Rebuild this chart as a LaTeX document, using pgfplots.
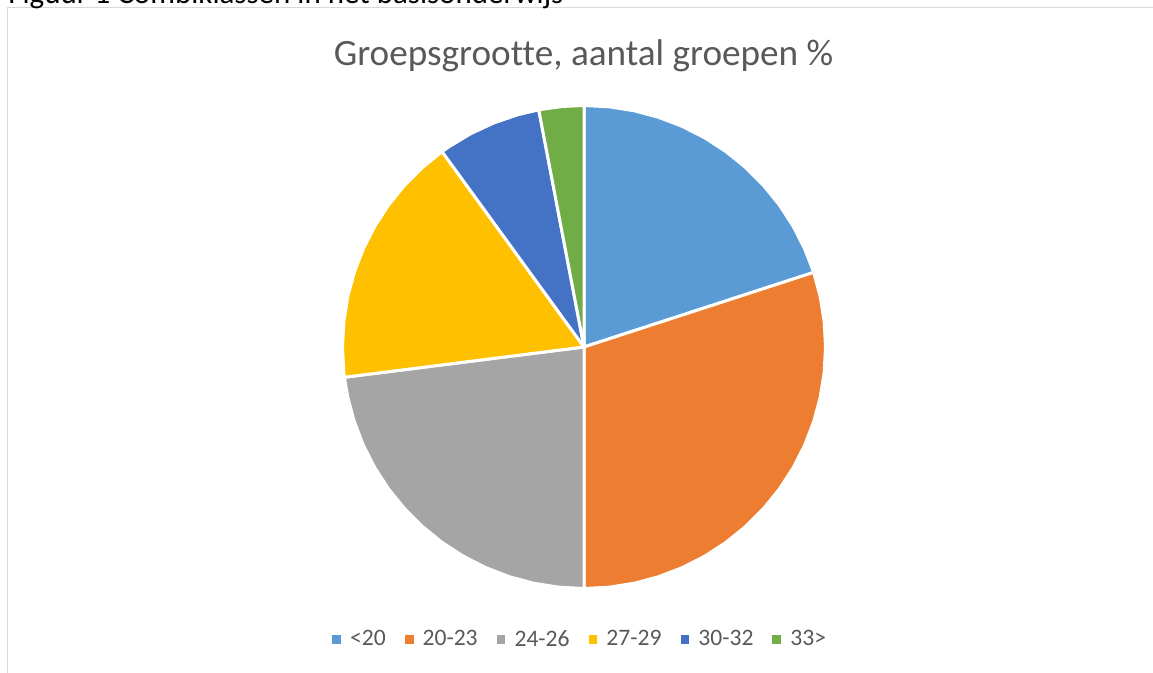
\documentclass[border=0pt]{standalone}
\usepackage{fontspec}
\setmainfont[Ligatures={NoCommon}]{Carlito}
\usepackage{pgfplots}
\pgfplotsset{compat=1.18}
\usepgfplotslibrary{polar}
\definecolor{c1}{HTML}{5B9BD5}
\definecolor{c2}{HTML}{ED7D31}
\definecolor{c3}{HTML}{A5A5A5}
\definecolor{c4}{HTML}{FFC000}
\definecolor{c5}{HTML}{4472C4}
\definecolor{c6}{HTML}{70AD47}
\definecolor{txt}{HTML}{595959}
\definecolor{framec}{HTML}{D9D9D9}
\begin{document}
\begin{tikzpicture}
\useasboundingbox (0,0) rectangle (576.5bp,336.5bp);
\draw[framec, line width=0.75bp] (3.75bp,-20bp) -- (3.75bp,332.75bp) -- (600bp,332.75bp);
\node[anchor=base west, font=\fontsize{15.5bp}{18bp}\selectfont, inner sep=0pt] at (4bp,334.5bp) {Figuur 1 Combiklassen in het basisonderwijs};
\node[anchor=base, font=\fontsize{18.6bp}{22bp}\selectfont, text=txt, inner sep=0pt] at (291.75bp,303.5bp) {Groepsgrootte, aantal groepen \%};
\begin{polaraxis}[
  at={(292bp,163bp)}, anchor=center,
  scale only axis, width=241.5bp, height=241.5bp,
  hide axis, ymin=0, ymax=1, xmin=0, xmax=360, clip=false,
  legend columns=-1,
  legend cell align=left,
  legend style={at={(0.494,-0.106)}, anchor=center, draw=none, fill=none,
    font=\fontsize{11.8bp}{13bp}\selectfont, text=txt,
    /tikz/every even column/.append style={column sep=7.5bp}},
  legend image code/.code={\fill[#1,draw=none] (0bp,-2.0bp) rectangle (4.4bp,2.4bp);\path (6.2bp,0bp);},
  every axis plot/.append style={draw=white, line width=1.5bp, line join=round},
]
% <20 : 20 %
\addplot[fill=c1] coordinates {(0,0) (18,1) (24,1) (30,1) (36,1) (42,1) (48,1) (54,1) (60,1) (66,1) (72,1) (78,1) (84,1) (90,1) (0,0)};
\addlegendentry{<20}
% 20-23 : 30 %
\addplot[fill=c2] coordinates {(0,0) (270,1) (276,1) (282,1) (288,1) (294,1) (300,1) (306,1) (312,1) (318,1) (324,1) (330,1) (336,1) (342,1) (348,1) (354,1) (360,1) (6,1) (12,1) (18,1) (0,0)};
\addlegendentry{20-23}
% 24-26 : 23 %
\addplot[fill=c3] coordinates {(0,0) (187.2,1) (192,1) (198,1) (204,1) (210,1) (216,1) (222,1) (228,1) (234,1) (240,1) (246,1) (252,1) (258,1) (264,1) (270,1) (0,0)};
\addlegendentry{24-26}
% 27-29 : 17 %
\addplot[fill=c4] coordinates {(0,0) (126,1) (132,1) (138,1) (144,1) (150,1) (156,1) (162,1) (168,1) (174,1) (180,1) (186,1) (187.2,1) (0,0)};
\addlegendentry{27-29}
% 30-32 : 7 %
\addplot[fill=c5] coordinates {(0,0) (100.8,1) (106,1) (112,1) (118,1) (124,1) (126,1) (0,0)};
\addlegendentry{30-32}
% 33> : 3 %
\addplot[fill=c6] coordinates {(0,0) (90,1) (95,1) (100.8,1) (0,0)};
\addlegendentry{33>}
\end{polaraxis}
\end{tikzpicture}
\end{document}
